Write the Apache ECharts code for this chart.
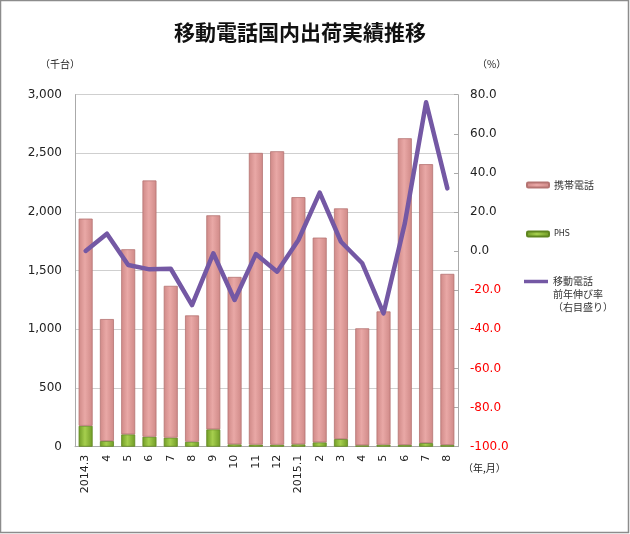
<!DOCTYPE html>
<html>
<head>
<meta charset="utf-8">
<script src="https://cdn.jsdelivr.net/npm/echarts@6/dist/echarts.min.js"></script>
<style>
html,body{margin:0;padding:0;background:#fff;}
#chart{width:630px;height:534px;}
</style>
</head>
<body>
<div id="chart"></div>
<script>
const categories = ['2014.3','4','5','6','7','8','9','10','11','12','2015.1','2','3','4','5','6','7','8'];
const keitai = [1766,1040,1578,2184,1294,1077,1824,1427,2486,2501,2107,1745,1966,997,1136,2614,2377,1458];
const phs = [178,48,105,85,77,42,148,20,18,17,20,37,65,12,17,15,31,15];
const growth = [0.1,8.9,-7.1,-9.3,-9.0,-27.6,-1.1,-25.0,-1.5,-10.5,5.7,29.9,4.8,-6.2,-31.8,14.2,76.1,32.1];
const leftTicks = {min:0, max:3000, interval:500};
const rightTicks = {min:-100, max:80, interval:20};

const FONT = 'DejaVu Sans, "Noto Sans CJK JP", sans-serif';
const CJK = '"Noto Sans CJK JP", sans-serif';

const chart = echarts.init(document.getElementById('chart'), null, {renderer:'canvas'});

function hGrad(edge, mid){
  return new echarts.graphic.LinearGradient(0,0,1,0,[
    {offset:0,color:edge},{offset:0.45,color:mid},{offset:1,color:edge}
  ]);
}

chart.setOption({
  animation:false,
  backgroundColor:'#fff',
  title:{
    text:'移動電話国内出荷実績推移',
    left:169, top:17,
    textStyle:{fontFamily:CJK, fontSize:21, fontWeight:'bold', color:'#111'}
  },
  grid:{left:75, right:172, top:94.7, bottom:87.3, containLabel:false},
  legend:[
    {
      data:['携帯電話'], left:521, top:175, orient:'vertical',
      itemWidth:22, itemHeight:5,
      textStyle:{fontFamily:CJK, fontSize:10, color:'#333'}
    },
    {
      data:['PHS'], left:521, top:225, orient:'vertical',
      itemWidth:22, itemHeight:5,
      textStyle:{fontFamily:FONT, fontSize:8, color:'#333'}
    },
    {
      data:[{name:'移動電話前年伸び率', icon:'rect', itemStyle:{color:'#7458a4'}}],
      left:519, top:244, orient:'vertical',
      itemWidth:24, itemHeight:3.5,
      formatter:function(){return ' \n \n移動電話\n前年伸び率\n（右目盛り）';},
      textStyle:{fontFamily:CJK, fontSize:10, color:'#333', lineHeight:13}
    }
  ],
  xAxis:{
    type:'category',
    data:categories,
    axisLine:{show:true, lineStyle:{color:'#aaa'}},
    axisTick:{show:false},
    axisLabel:{rotate:90, margin:8, fontFamily:FONT, fontSize:11, color:'#222', interval:0}
  },
  yAxis:[
    {
      type:'value', min:leftTicks.min, max:leftTicks.max, interval:leftTicks.interval,
      axisLine:{show:true, lineStyle:{color:'#aaa'}},
      axisTick:{show:false},
      splitLine:{show:true, lineStyle:{color:'#cfcfcf', width:1}},
      axisLabel:{margin:13, fontFamily:FONT, fontSize:12, color:'#222',
        formatter:function(v){return v.toLocaleString('en-US');}}
    },
    {
      type:'value', min:rightTicks.min, max:rightTicks.max, interval:rightTicks.interval,
      position:'right',
      axisLine:{show:true, lineStyle:{color:'#aaa'}},
      axisTick:{show:true, inside:true, length:4, lineStyle:{color:'#aaa'}},
      splitLine:{show:false},
      axisLabel:{margin:12, fontFamily:FONT, fontSize:12,
        color:function(v){return Number(v) < 0 ? '#ff0000' : '#222';},
        formatter:function(v){return Number(v).toFixed(1);}}
    }
  ],
  series:[
    {
      name:'PHS', type:'bar', stack:'total', data:phs, barWidth:14,
      itemStyle:{color:hGrad('#6f9a25','#a6cf4e'), borderColor:'#5f8520', borderWidth:0.8}
    },
    {
      name:'携帯電話', type:'bar', stack:'total', data:keitai, barWidth:14,
      itemStyle:{color:hGrad('#cf8987','#e9a8a6'), borderColor:'#b57472', borderWidth:0.8}
    },
    {
      name:'移動電話前年伸び率', type:'line', yAxisIndex:1, data:growth,
      symbol:'none', smooth:false,
      lineStyle:{color:'#7458a4', width:4.5, join:'round', cap:'round'},
      itemStyle:{color:'#7458a4'}
    }
  ],
  graphic:[
    {type:'rect', shape:{x:0.5, y:0.5, width:628, height:532},
     style:{fill:null, stroke:'#8c8c8c', lineWidth:1.5}, silent:true, z:100},
    {type:'text', left:40, top:59, style:{text:'（千台）', font:'10px "Noto Sans CJK JP"', fill:'#222'}},
    {type:'text', left:477, top:59, style:{text:'（%）', font:'10px "Noto Sans CJK JP"', fill:'#222'}},
    {type:'text', left:463, top:463, style:{text:'（年,月）', font:'10px "Noto Sans CJK JP"', fill:'#222'}}
  ]
});
</script>
</body>
</html>
